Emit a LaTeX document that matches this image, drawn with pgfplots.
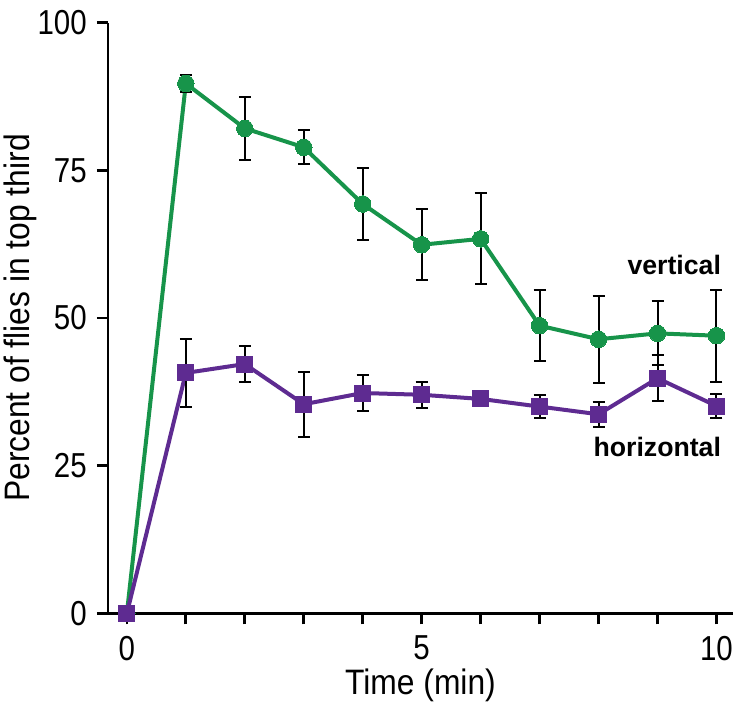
\documentclass[border=0pt]{standalone}
\usepackage{pgfplots}
\pgfplotsset{compat=1.18}
\usepackage{fontspec}
\setmainfont{Liberation Sans}[FakeStretch=0.85]
\newfontfamily\axlabfont{Liberation Sans}[FakeStretch=0.9]
\newfontfamily\labfont{Liberation Sans}
\definecolor{vgreen}{HTML}{17944A}
\definecolor{hpurple}{HTML}{5E2B91}
\begin{document}
\begin{tikzpicture}
\begin{axis}[
  name=ax,
  width=468.75pt, height=443pt, scale only axis,
  xmin=-0.32, xmax=10.28, ymin=0, ymax=100,
  axis lines=left,
  axis line style={-, line width=2pt, black},
  tick align=outside,
  major tick length=8.25pt,
  tick style={line width=2pt, black},
  xtick={0,1,2,3,4,5,6,7,8,9,10},
  xticklabels={0,,,,,5,,,,,10},
  ytick={0,25,50,75,100},
  /pgf/number format/assume math mode=true,
  tick label style={font=\fontsize{26}{26}\selectfont, inner sep=0pt},
  xticklabel shift=8.5pt,
  yticklabel shift=7.5pt,
  xlabel={Time (min)},
  ylabel={Percent of flies in top third},
  label style={font=\axlabfont\fontsize{26.5}{26.5}\selectfont, inner sep=0pt},
  xlabel style={at={(axis description cs:0.5,-0.094)}, anchor=north},
  ylabel style={at={(axis description cs:-0.1136,0.5)}, anchor=south, rotate=0},
  clip=false,
]
\addplot[vgreen, line width=3pt, mark=*, mark size=6.2pt,
  mark options={solid, fill=vgreen, draw=vgreen, line width=0pt},
  error bars/.cd, y dir=both, y explicit,
  error bar style={black, line width=1.5pt},
  error mark options={rotate=90, mark size=4.5pt, black, line width=1.5pt}]
  coordinates {
  (0,0) +- (0,0)
  (1,89.7) +- (0,1.5)
  (2,82.1) +- (0,5.3)
  (3,78.9) +- (0,2.9)
  (4,69.3) +- (0,6.1)
  (5,62.4) +- (0,6.0)
  (6,63.4) +- (0,7.7)
  (7,48.7) +- (0,6.0)
  (8,46.4) +- (0,7.35)
  (9,47.4) +- (0,5.4)
  (10,47.0) +- (0,7.8)
  };
\addplot[hpurple, line width=3pt, mark=square*, mark size=6pt,
  mark options={solid, fill=hpurple, draw=hpurple, line width=0pt},
  error bars/.cd, y dir=both, y explicit,
  error bar style={black, line width=1.5pt},
  error mark options={rotate=90, mark size=4.5pt, black, line width=1.5pt}]
  coordinates {
  (0,0) +- (0,0)
  (1,40.7) +- (0,5.7)
  (2,42.2) +- (0,3.1)
  (3,35.4) +- (0,5.5)
  (4,37.3) +- (0,3.0)
  (5,37.0) +- (0,2.2)
  (6,36.3) +- (0,0.8)
  (7,35.0) +- (0,2.0)
  (8,33.7) +- (0,2.1)
  (9,39.8) +- (0,3.9)
  (10,35.1) +- (0,2.1)
  };
\node[anchor=base east, inner sep=0pt, font=\labfont\bfseries\fontsize{20}{20}\selectfont] at (axis cs:10.08,57.3) {vertical};
\node[anchor=base east, inner sep=0pt, font=\labfont\bfseries\fontsize{20}{20}\selectfont] at (axis cs:10.08,26.5) {horizontal};
\end{axis}
\draw[line width=2pt, black] (ax.south west) -- ++(-8.25pt,0pt);
\pgfresetboundingbox
\path[use as bounding box] ([shift={(-81pt,-72.5pt)}]ax.south west) rectangle ([shift={(476.25pt,460pt)}]ax.south west);
\end{tikzpicture}
\end{document}
